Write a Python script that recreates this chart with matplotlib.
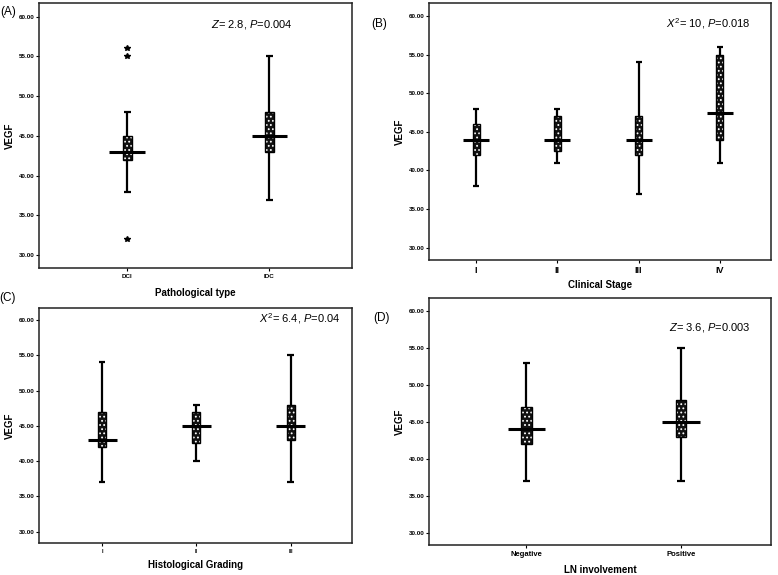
import matplotlib
matplotlib.use("Agg")
import matplotlib.pyplot as plt

plt.rcParams['font.family'] = ['Liberation Sans', 'DejaVu Sans']
plt.rcParams['mathtext.fontset'] = 'custom'
plt.rcParams['mathtext.rm'] = 'Liberation Sans'
plt.rcParams['mathtext.it'] = 'Liberation Sans:italic'
plt.rcParams['hatch.linewidth'] = 0.8

# ---- data ----
# (A) Pathological type
a_cats = ['DCI', 'IDC']
a_low = [38, 37]
a_q1 = [42, 43]
a_med = [43, 45]
a_q3 = [45, 48]
a_high = [48, 55]
a_outliers = [[56, 55, 32], []]

# (B) Clinical stage
b_cats = ['I', 'II', 'III', 'IV']
b_low = [38, 41, 37, 41]
b_q1 = [42, 42.5, 42, 44]
b_med = [44, 44, 44, 47.5]
b_q3 = [46, 47, 47, 55]
b_high = [48, 48, 54, 56]

# (C) Histological grading
c_cats = ['I', 'II', 'III']
c_low = [37, 40, 37]
c_q1 = [42, 42.5, 43]
c_med = [43, 45, 45]
c_q3 = [47, 47, 48]
c_high = [54, 48, 55]

# (D) LN involvement
d_cats = ['Negative', 'Positive']
d_low = [37, 37]
d_q1 = [42, 43]
d_med = [44, 45]
d_q3 = [47, 48]
d_high = [53, 55]

y_ticks = [30, 35, 40, 45, 50, 55, 60]

W, H = 778, 575


def px_axes(fig, left, top, right, bottom):
    return fig.add_axes([left / W, 1 - bottom / H, (right - left) / W, (bottom - top) / H])


def draw_box_panel(ax, cats, low, q1, med, q3, high, xlim, box_w, med_w, cap_w,
                   xlabel, stat_text, stat_xy, tick_fs, outliers=None):
    pos = list(range(1, len(cats) + 1))
    ax.vlines(pos, low, high, color='black', lw=1.6, zorder=2)
    ax.hlines(low, [p - cap_w / 2 for p in pos], [p + cap_w / 2 for p in pos],
              color='black', lw=1.6, zorder=2)
    ax.hlines(high, [p - cap_w / 2 for p in pos], [p + cap_w / 2 for p in pos],
              color='black', lw=1.6, zorder=2)
    heights = [b - a for a, b in zip(q1, q3)]
    ax.bar(pos, heights, bottom=q1, width=box_w, color='#111111',
           edgecolor='white', hatch='....', linewidth=0, zorder=3)
    ax.bar(pos, heights, bottom=q1, width=box_w, fill=False,
           edgecolor='black', linewidth=1.0, zorder=4)
    ax.hlines(med, [p - med_w / 2 for p in pos], [p + med_w / 2 for p in pos],
              color='black', lw=2.2, zorder=5)
    if outliers:
        for p, vals in zip(pos, outliers):
            if vals:
                ax.plot([p] * len(vals), vals, marker='*', ls='none',
                        color='black', ms=3.8, zorder=5)

    ax.set_xlim(*xlim)
    ax.set_ylim(28.4, 61.7)
    ax.set_yticks(y_ticks)
    ax.set_yticklabels([f'{v:.2f}' for v in y_ticks], fontsize=4.5, fontweight='bold')
    ax.set_xticks(pos)
    ax.set_xticklabels(cats, fontsize=tick_fs, fontweight='bold')
    ax.tick_params(axis='y', length=2.5, width=0.8, pad=0.8)
    ax.tick_params(axis='x', length=2.5, width=0.8, pad=2)
    for s in ax.spines.values():
        s.set_linewidth(1.1)
        s.set_color('#222222')
    ax.set_ylabel('VEGF', fontsize=7, fontweight='bold')
    ax.set_xlabel(xlabel, fontsize=7, fontweight='bold')
    ax.text(stat_xy[0], stat_xy[1], stat_text, transform=ax.transAxes,
            fontsize=8, ha='center', va='center')


fig = plt.figure(figsize=(W / 100, H / 100), dpi=100)

axA = px_axes(fig, 39, 3, 352, 268)
draw_box_panel(axA, a_cats, a_low, a_q1, a_med, a_q3, a_high, (0.38, 2.58),
               0.065, 0.25, 0.05, 'Pathological type',
               r'$\it{Z}$= 2.8, $\it{P}$=0.004', (0.68, 0.92), 4.5,
               outliers=a_outliers)
axA.xaxis.set_label_coords(0.5, -25 / 265)
axA.yaxis.set_label_coords(-29 / 313, 0.5)

axB = px_axes(fig, 429, 3, 771, 260)
draw_box_panel(axB, b_cats, b_low, b_q1, b_med, b_q3, b_high, (0.42, 4.63),
               0.085, 0.32, 0.075, 'Clinical Stage',
               r'$\it{X}^2$= 10, $\it{P}$=0.018', (0.816, 0.918), 6.5)
axB.xaxis.set_label_coords(0.5, -25 / 257)
axB.yaxis.set_label_coords(-29 / 342, 0.5)

axC = px_axes(fig, 39, 308, 352, 543)
draw_box_panel(axC, c_cats, c_low, c_q1, c_med, c_q3, c_high, (0.33, 3.65),
               0.085, 0.31, 0.07, 'Histological Grading',
               r'$\it{X}^2$= 6.4, $\it{P}$=0.04', (0.834, 0.957), 4.0)
axC.xaxis.set_label_coords(0.5, -22 / 235)
axC.yaxis.set_label_coords(-29 / 313, 0.5)

axD = px_axes(fig, 429, 298, 771, 545)
draw_box_panel(axD, d_cats, d_low, d_q1, d_med, d_q3, d_high, (0.37, 2.58),
               0.065, 0.245, 0.05, 'LN involvement',
               r'$\it{Z}$= 3.6, $\it{P}$=0.003', (0.82, 0.879), 5.5)
axD.xaxis.set_label_coords(0.5, -25 / 247)
axD.yaxis.set_label_coords(-29 / 342, 0.5)

for ax in (axA, axB, axC, axD):
    ax.xaxis.label.set_verticalalignment('center')
    ax.yaxis.label.set_verticalalignment('center')

for lab, x, y in [('(A)', 8, 12), ('(B)', 379, 24), ('(C)', 8, 298), ('(D)', 382, 318)]:
    fig.text(x / W, 1 - y / H, lab, fontsize=8.5, ha='center', va='center')

fig.savefig('out.png', dpi=100)
